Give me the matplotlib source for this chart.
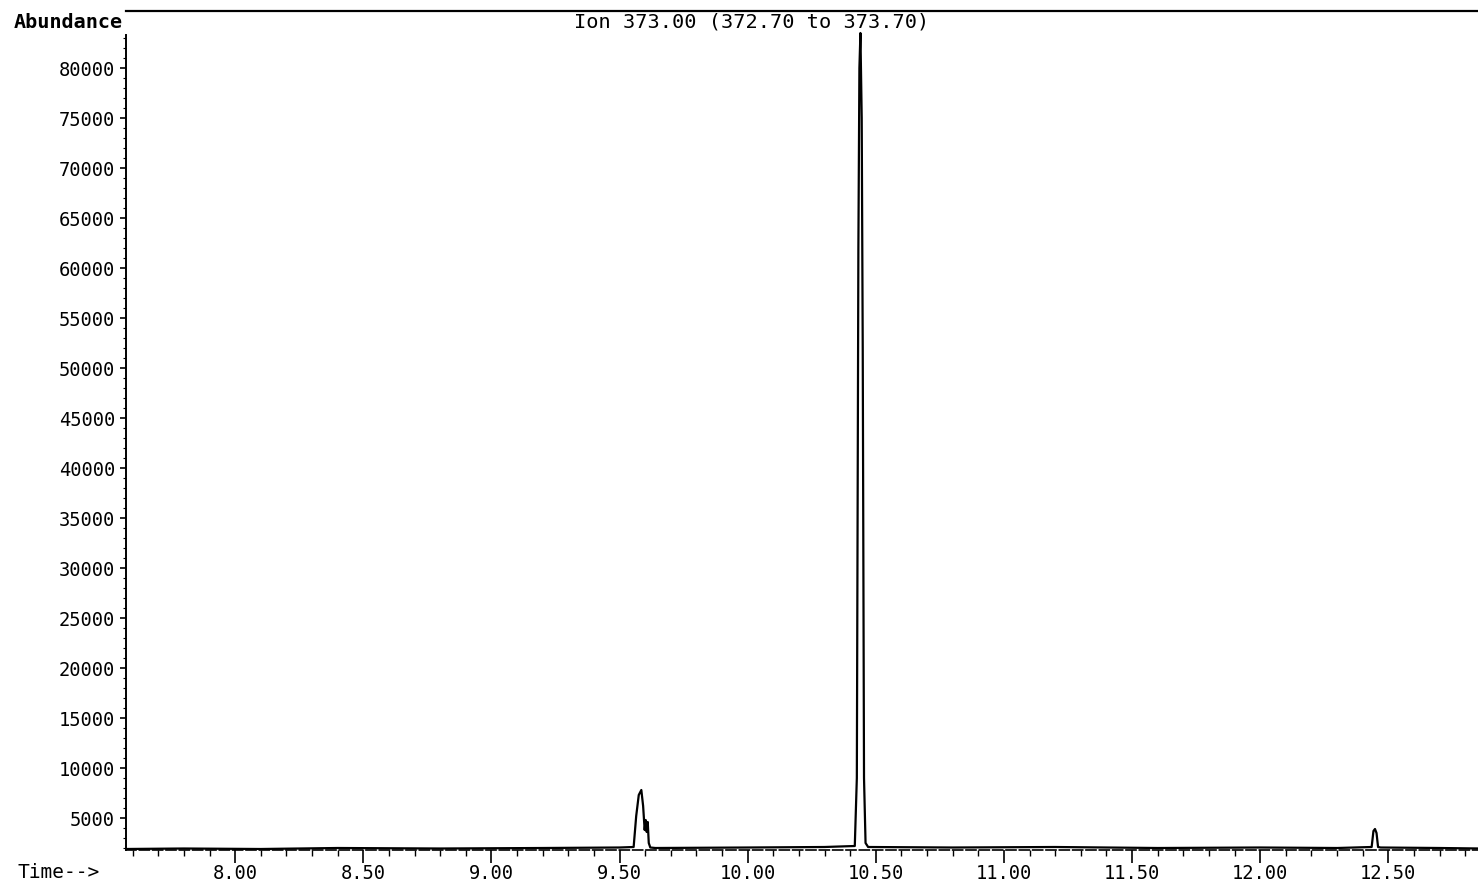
import matplotlib.pyplot as plt
from matplotlib.ticker import MultipleLocator, FixedLocator

# ion chromatogram trace
time_min = [7.57, 7.80, 8.10, 8.40, 8.80, 9.20, 9.50, 9.555, 9.565, 9.575,
            9.585, 9.592, 9.598, 9.602, 9.606, 9.610, 9.614, 9.620, 9.64,
            10.00, 10.30, 10.418, 10.426, 10.432, 10.436, 10.440, 10.445,
            10.449, 10.454, 10.460, 10.47, 10.80, 11.20, 11.60, 12.00,
            12.30, 12.435, 12.442, 12.448, 12.454, 12.460, 12.47, 12.70, 12.86]
abundance = [1900, 1950, 1900, 2000, 1950, 2000, 2050, 2100, 5200, 7300,
             7800, 6200, 3800, 4800, 3600, 4600, 2500, 2050, 2000,
             2050, 2100, 2200, 9000, 62000, 80000, 83500, 75000,
             52000, 9000, 2500, 2100, 2050, 2100, 2000, 2050,
             2000, 2100, 3700, 3900, 3500, 2100, 2050, 2000, 1950]

y_ticks = list(range(5000, 80001, 5000))
x_ticks = [8.0, 8.5, 9.0, 9.5, 10.0, 10.5, 11.0, 11.5, 12.0, 12.5]
title = "Ion 373.00 (372.70 to 373.70)"

plt.rcParams["font.family"] = ["DejaVu Sans Mono"]

fig = plt.figure(figsize=(14.78, 8.86), dpi=100)
ax = fig.add_axes([126 / 1478, 36 / 886, 1 - 126 / 1478, 1 - 47 / 886])

ax.plot(time_min, abundance, color="black", linewidth=1.6)

ax.set_xlim(7.574, 12.85)
ax.set_ylim(1800, 85700)

ax.xaxis.set_major_locator(FixedLocator(x_ticks))
ax.xaxis.set_minor_locator(MultipleLocator(0.1))
ax.set_xticklabels([f"{t:.2f}" for t in x_ticks])
ax.yaxis.set_major_locator(FixedLocator(y_ticks))
ax.yaxis.set_minor_locator(FixedLocator(list(range(2000, 83001, 1000))))
ax.set_yticklabels([str(v) for v in y_ticks])

ax.tick_params(axis="x", which="major", length=9, width=1.2, pad=1, labelsize=13.5)
ax.tick_params(axis="x", which="minor", length=4, width=1.0)
ax.tick_params(axis="y", which="major", length=4, width=1.2, pad=4, labelsize=13.5)
ax.tick_params(axis="y", which="minor", length=2, width=0.8)

ax.spines["right"].set_visible(False)
ax.spines["top"].set_linewidth(1.6)
ax.spines["left"].set_linewidth(1.4)
ax.spines["left"].set_bounds(1800, 83300)
ax.spines["bottom"].set_linewidth(1.2)
ax.spines["bottom"].set_linestyle((0, (6, 2)))

fig.text(752 / 1478, 1 - 22 / 886, title, ha="center", va="center",
         fontsize=14.6)
fig.text(14 / 1478, 1 - 22 / 886, "Abundance", ha="left", va="center",
         fontsize=14.5, fontweight="bold")
fig.text(18 / 1478, 1 - 873 / 886, "Time-->", ha="left", va="center",
         fontsize=14)

fig.savefig("out.png", dpi=100)
